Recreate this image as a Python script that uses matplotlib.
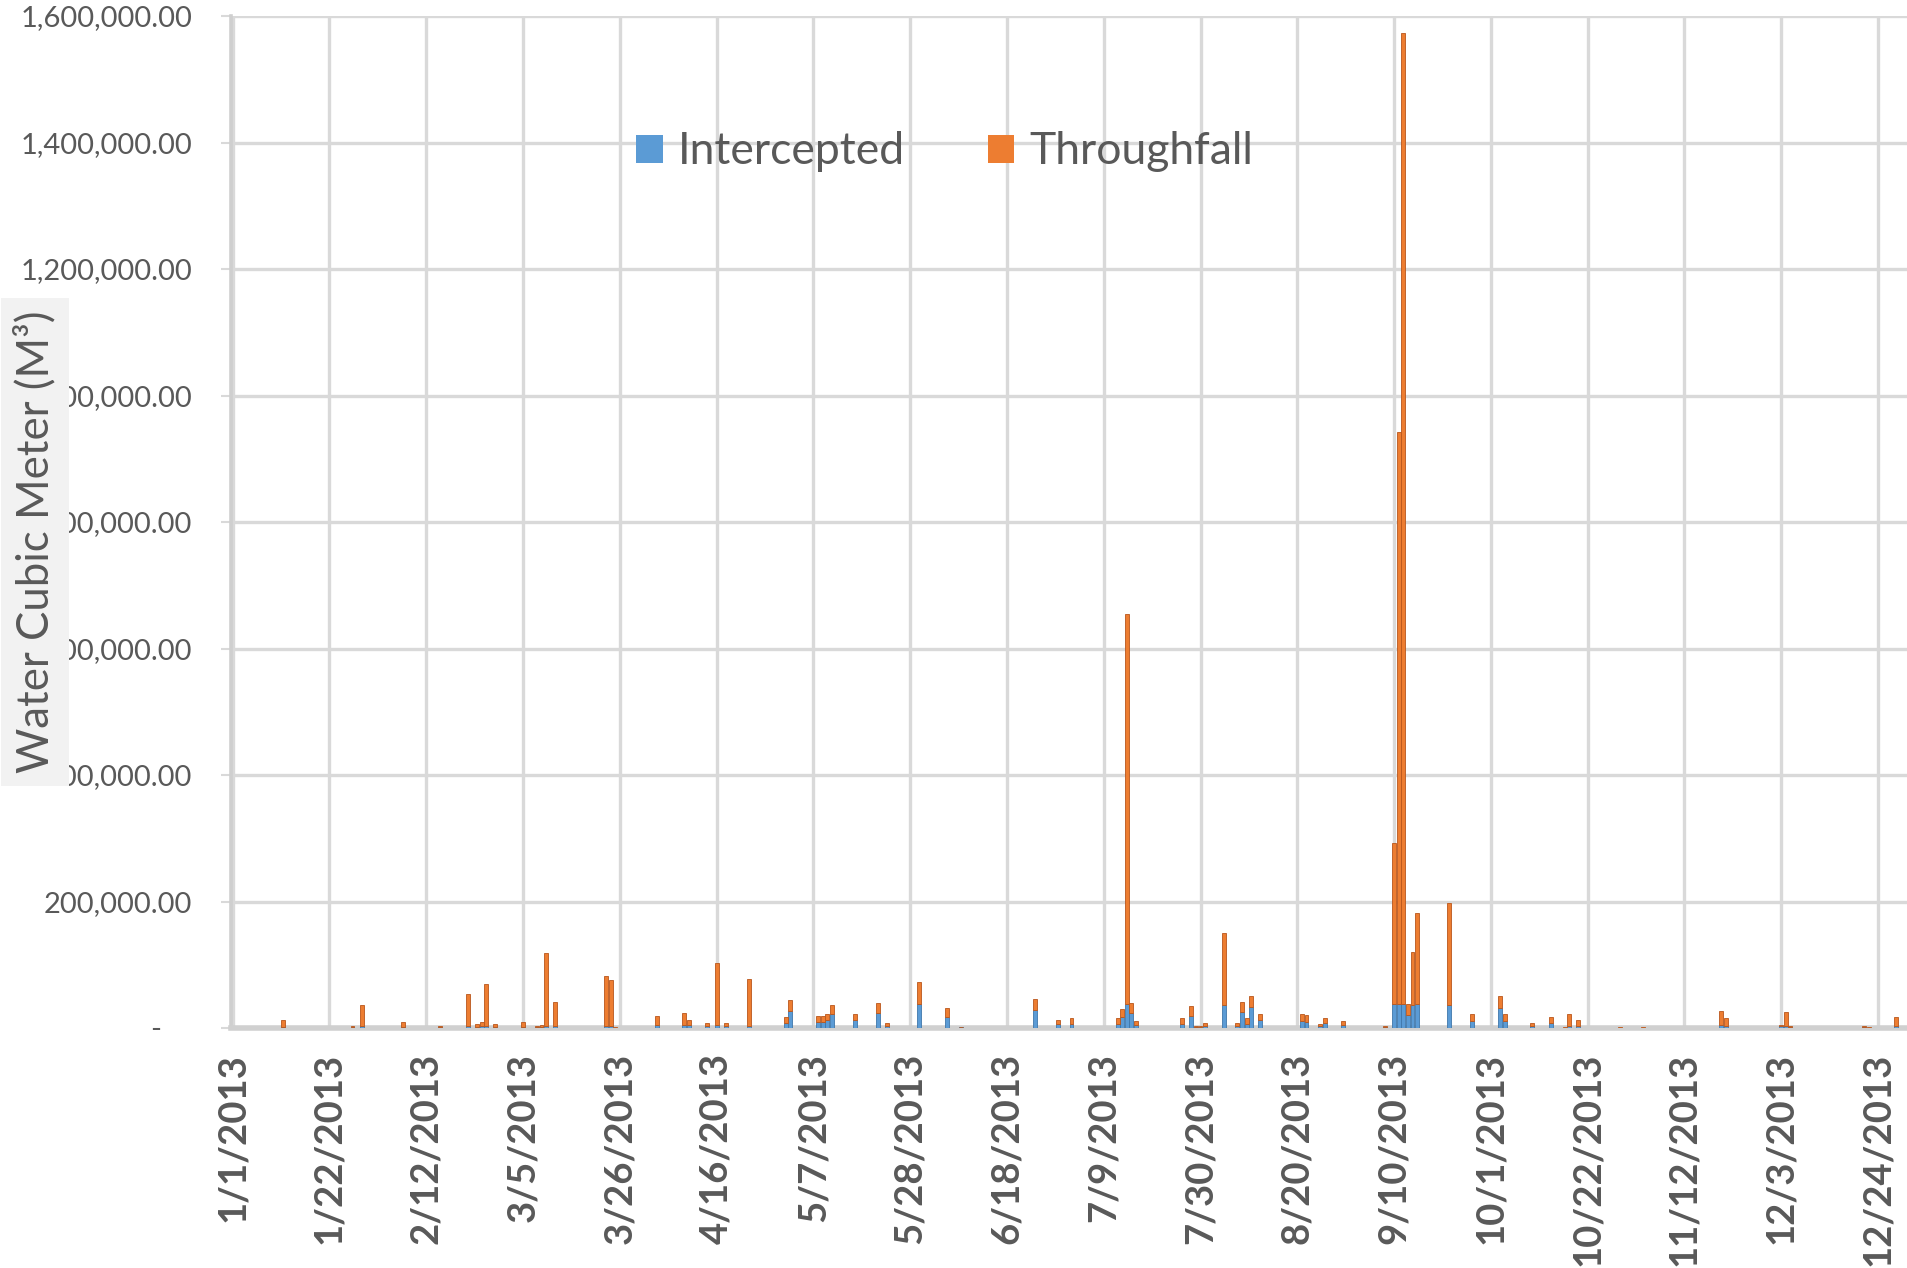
import matplotlib
matplotlib.use("Agg")
import matplotlib.pyplot as plt
from matplotlib.patches import Patch
import pandas as pd
import numpy as np

# ---------------- data ----------------
dates = ["2013-01-12", "2013-01-27", "2013-01-29", "2013-02-07", "2013-02-15",
         "2013-02-21", "2013-02-23", "2013-02-24", "2013-02-25", "2013-02-27",
         "2013-03-05", "2013-03-08", "2013-03-09", "2013-03-10", "2013-03-12",
         "2013-03-23", "2013-03-24", "2013-03-25", "2013-04-03", "2013-04-09",
         "2013-04-10", "2013-04-14", "2013-04-16", "2013-04-18", "2013-04-23",
         "2013-05-01", "2013-05-02", "2013-05-08", "2013-05-09", "2013-05-10",
         "2013-05-11", "2013-05-16", "2013-05-21", "2013-05-23", "2013-05-30",
         "2013-06-05", "2013-06-08", "2013-06-24", "2013-06-29", "2013-07-02",
         "2013-07-12", "2013-07-13", "2013-07-14", "2013-07-15", "2013-07-16",
         "2013-07-26", "2013-07-28", "2013-07-29", "2013-07-30", "2013-07-31",
         "2013-08-04", "2013-08-07", "2013-08-08", "2013-08-09", "2013-08-10",
         "2013-08-12", "2013-08-21", "2013-08-22", "2013-08-25", "2013-08-26",
         "2013-08-30", "2013-09-08", "2013-09-10", "2013-09-11", "2013-09-12",
         "2013-09-13", "2013-09-14", "2013-09-15", "2013-09-22", "2013-09-27",
         "2013-10-03", "2013-10-04", "2013-10-10", "2013-10-14", "2013-10-17",
         "2013-10-18", "2013-10-20", "2013-10-29", "2013-11-03", "2013-11-20",
         "2013-11-21", "2013-12-03", "2013-12-04", "2013-12-05", "2013-12-21",
         "2013-12-22", "2013-12-28"]

intercepted = [2000, 1000, 2500, 2000, 1000,
               2500, 2000, 2500, 3000, 2000,
               2000, 1000, 1500, 3000, 3000,
               3000, 3000, 500, 4000, 5000,
               4000, 3000, 4000, 3000, 3000,
               7900, 26700, 10000, 10000, 12600,
               22000, 12600, 23000, 3700, 37700,
               18000, 800, 28000, 6000, 6800,
               6300, 16800, 37700, 23600, 4700,
               6300, 19400, 1000, 1000, 3000,
               37000, 2600, 24600, 6300, 32500,
               13000, 10500, 10000, 2600, 7300,
               4700, 1500, 37700, 37700, 37700,
               20000, 37000, 37700, 37000, 10500,
               31400, 11500, 3700, 7900, 600,
               3700, 3700, 600, 600, 4700,
               3700, 2600, 3700, 1000, 1000,
               600, 3700]

totals = [12000, 3000, 37000, 10000, 3000,
          53000, 7000, 9000, 70000, 6000,
          10000, 3000, 4000, 119000, 41000,
          82000, 76000, 2000, 19400, 23600,
          13000, 8000, 102000, 8000, 77500,
          16800, 44500, 18300, 19400, 22000,
          36700, 22000, 38800, 8000, 73000,
          31000, 2000, 46600, 13000, 15700,
          15200, 29900, 655000, 39300, 11000,
          15700, 35000, 3000, 2500, 8000,
          150000, 8000, 41000, 16000, 51000,
          22000, 22000, 20400, 6300, 15700,
          10500, 3700, 292000, 942000, 1573000,
          37700, 120000, 182000, 198000, 22000,
          51000, 22000, 8000, 17800, 1600,
          22500, 13000, 1600, 1600, 27000,
          15700, 5000, 24600, 3000, 2600,
          1600, 17800]

throughfall = [t - i for t, i in zip(totals, intercepted)]

tick_labels = ["1/1/2013", "1/22/2013", "2/12/2013", "3/5/2013", "3/26/2013",
               "4/16/2013", "5/7/2013", "5/28/2013", "6/18/2013", "7/9/2013",
               "7/30/2013", "8/20/2013", "9/10/2013", "10/1/2013", "10/22/2013",
               "11/12/2013", "12/3/2013", "12/24/2013"]

y_ticks = [0, 200000, 400000, 600000, 800000, 1000000, 1200000, 1400000, 1600000]

series_names = ["Intercepted", "Throughfall"]
colors = ["#5b9bd5", "#ed7d31"]
edge_colors = ["#3f77aa", "#b9561b"]

# ---------------- figure ----------------
W, H = 1907, 1268
DPI = 100
fig = plt.figure(figsize=(W / DPI, H / DPI), dpi=DPI)
fig.patch.set_facecolor("white")

TEXT = "#595959"
GRID = "#d9d9d9"
font = ["Lato", "DejaVu Sans"]

left_px, right_px = 231, 1907
top_px, base_px = 16, 1028
ax = fig.add_axes([left_px / W, 1 - base_px / H,
                   (right_px - left_px) / W, (base_px - top_px) / H])

start = pd.Timestamp("2013-01-01")
x = (pd.to_datetime(dates) - start).days.to_numpy()
tick_x = (pd.to_datetime(tick_labels, format="%m/%d/%Y") - start).days.to_numpy()

px_per_day = (1878 - 232.7) / 357.0
ax.set_xlim((left_px - 232.7) / px_per_day, (right_px - 232.7) / px_per_day)
ax.set_ylim(0, 1600000)

ax.bar(x, intercepted, width=0.85, color=colors[0], edgecolor=edge_colors[0],
       linewidth=0.6, zorder=3)
ax.bar(x, throughfall, width=0.85, bottom=intercepted, color=colors[1],
       edgecolor=edge_colors[1], linewidth=0.6, zorder=3)

# grid
ax.set_xticks(tick_x)
ax.set_xticklabels(tick_labels, rotation=90, fontsize=27.5, fontweight="bold",
                   color=TEXT, family=font, va="top", ha="center")
ax.set_yticks(y_ticks)
ax.set_yticklabels(["-    "] + [f"{v:,.2f}" for v in y_ticks[1:]],
                   fontsize=21, color=TEXT, family=font)
ax.grid(True, color=GRID, linewidth=2.4, zorder=0)
ax.set_axisbelow(True)
ax.tick_params(axis="x", length=0, pad=18)
ax.tick_params(axis="y", length=7, width=1.5, color=GRID, pad=21)

for side in ["top", "right"]:
    ax.spines[side].set_visible(False)
ax.spines["left"].set_color("#cfcfcf")
ax.spines["left"].set_linewidth(2.6)
ax.spines["bottom"].set_color("#d0d0d0")
ax.spines["bottom"].set_linewidth(4)

# legend
handles = [Patch(facecolor=c, edgecolor="none") for c in colors]
leg = ax.legend(handles, series_names, loc="center left",
                bbox_to_anchor=((636 - left_px) / (right_px - left_px),
                                (base_px - 152) / (base_px - top_px)),
                ncol=2, frameon=False, borderpad=0, borderaxespad=0,
                handlelength=0.6, handleheight=0.6, handletextpad=0.35,
                columnspacing=1.85,
                prop={"family": font, "size": 32})
for t in leg.get_texts():
    t.set_color(TEXT)

# y-axis title with grey box overlapping the tick labels
fig.text(35 / W, 1 - 542 / H, "Water Cubic Meter (M³)", rotation=90,
         ha="center", va="center", fontsize=31.5, color=TEXT, family=font,
         zorder=10,
         bbox=dict(boxstyle="square,pad=0.3", facecolor="#f2f2f2",
                   edgecolor="none"))

fig.savefig("out.png", dpi=DPI, facecolor="white")
